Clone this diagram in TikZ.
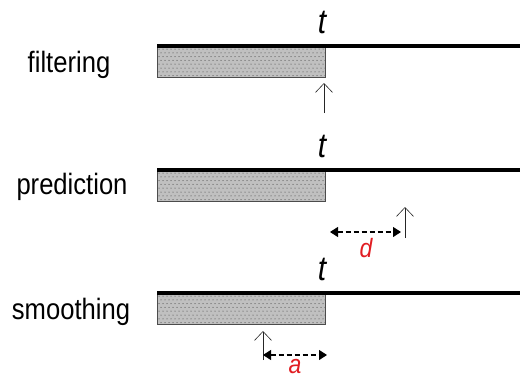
\documentclass[tikz,border=0pt]{standalone}
\usepackage{fontspec}
\usepackage{graphicx}
\setmainfont{Liberation Sans}
\usetikzlibrary{arrows.meta}
\definecolor{markred}{RGB}{225,30,35}
\definecolor{pastfill}{RGB}{192,192,192}
\newcommand{\tallbox}[1]{\scalebox{1}[1.15]{#1}}
\begin{document}
\begin{tikzpicture}[x=1pt,y=-1pt,
  rowlabel/.style={font=\fontsize{25.6}{30}\selectfont, anchor=base, inner sep=0pt},
  timelabel/.style={font=\fontsize{30}{32}\selectfont\itshape, anchor=base, inner sep=0pt},
  lenlabel/.style={font=\fontsize{23}{26}\selectfont\itshape, text=markred, anchor=base, inner sep=0pt},
  timeline/.style={line width=3.2pt, black},
  query/.style={line width=0.7pt, black!85, -{Straight Barb[length=9pt,width=17pt,line width=0.6pt]}},
  span/.style={line width=1.1pt, dash pattern=on 5pt off 3pt, {Triangle[length=8pt,width=10pt]}-{Triangle[length=8pt,width=10pt]}}]
\useasboundingbox (0,0) rectangle (520,378);

% three rows: observed past (shaded) up to time t, then the time axis
\foreach \row/\y in {f/46, p/170, s/293}{
  \fill[pastfill] (157,\y) rectangle (325,\y+31);
  \foreach \i in {0,...,41}{
    \foreach \j in {0,...,7}{
      \pgfmathsetmacro{\dx}{mod(\j,2)*2}
      \fill[black!80] (159+\i*4+\dx,\y+3+\j*3.8) circle (0.5pt);
    }
  }
  \draw[black!70, line width=0.8pt] (157,\y) rectangle (325,\y+31);
  \coordinate (\row-start) at (157,\y);
  \coordinate (\row-t) at (325,\y);
  \coordinate (\row-end) at (520,\y);
  \draw[timeline] (\row-start) -- (\row-end);
}

% row labels
\node[rowlabel] (lf) at (69,72) {\tallbox{filtering}};
\node[rowlabel] (lp) at (72,194) {\tallbox{prediction}};
\node[rowlabel] (ls) at (71,319) {\tallbox{smoothing}};

% current time marks
\node[timelabel] (tf) at (322,33) {\tallbox{t}};
\node[timelabel] (tp) at (322,157) {\tallbox{t}};
\node[timelabel] (ts) at (322,280) {\tallbox{t}};

% filtering: estimate at t
\coordinate (qf0) at (324,113);
\coordinate (qf1) at (324,83);
\draw[query] (qf0) -- (qf1);

% prediction: estimate at t+d
\coordinate (qp0) at (405,238);
\coordinate (qp1) at (405,207);
\draw[query] (qp0) -- (qp1);
\coordinate (dp0) at (330,232);
\coordinate (dp1) at (401,232);
\draw[span] (dp0) -- (dp1);
\node[lenlabel] (d) at (366,257) {\tallbox{d}};

% smoothing: estimate at t-a
\coordinate (qs0) at (263,360);
\coordinate (qs1) at (263,331);
\draw[query] (qs0) -- (qs1);
\coordinate (as0) at (263,355);
\coordinate (as1) at (327,355);
\draw[span] (as0) -- (as1);
\node[lenlabel] (a) at (295,373) {\tallbox{a}};
\end{tikzpicture}
\end{document}
